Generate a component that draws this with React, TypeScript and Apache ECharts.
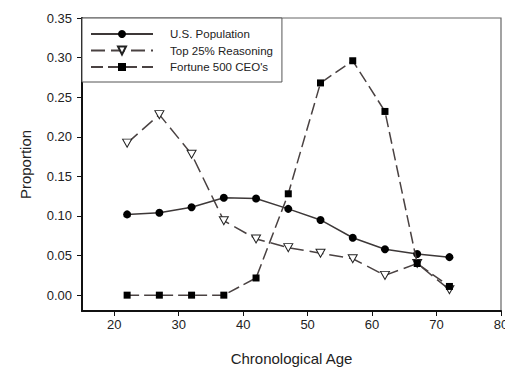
import React, { useEffect, useRef } from "react";
import * as echarts from "echarts";

// Age-group midpoints (years)
const ages = [22, 27, 32, 37, 42, 47, 52, 57, 62, 67, 72];

// Proportion of each group falling in each age bin
const usPopulation = [0.102, 0.104, 0.111, 0.123, 0.122, 0.109, 0.095, 0.0725, 0.058, 0.052, 0.048];
const topReasoning = [0.192, 0.228, 0.178, 0.094, 0.071, 0.06, 0.053, 0.046, 0.025, 0.04, 0.007];
const fortuneCEOs = [0, 0, 0, 0, 0.0217, 0.128, 0.268, 0.296, 0.232, 0.04, 0.011];

const seriesNames = ["U.S. Population", "Top 25% Reasoning", "Fortune 500 CEO's"];

const xTicks = [20, 30, 40, 50, 60, 70, 80];
const yTicks = [0, 0.05, 0.1, 0.15, 0.2, 0.25, 0.3, 0.35];

const FONT = "'Liberation Sans', Arial, Helvetica, sans-serif";
const INK = "#111";
const LINE = "#4a4242";

const pairs = (vals: number[]) => ages.map((a, i) => [a, vals[i]]);

export default function App() {
  const ref = useRef<HTMLDivElement>(null);

  useEffect(() => {
    if (!ref.current) return;
    const chart = echarts.init(ref.current, null, { renderer: "svg" });

    chart.setOption({
      animation: false,
      backgroundColor: "#ffffff",
      textStyle: { fontFamily: FONT },
      grid: {
        left: 82,
        right: 4,
        top: 18,
        bottom: 56,
        outerBoundsMode: "none",
        containLabel: false,
        show: true,
        borderColor: "#666",
        borderWidth: 1.2,
        backgroundColor: "transparent",
      },
      legend: {
        orient: "vertical",
        left: 82,
        top: 18,
        padding: [10, 9, 9, 8],
        itemGap: 4.5,
        itemWidth: 62,
        itemHeight: 10,
        backgroundColor: "#fff",
        borderColor: "#555",
        borderWidth: 1,
        selectedMode: false,
        textStyle: {
          fontFamily: FONT,
          fontSize: 11.5,
          color: "#222",
          padding: [0, 0, 0, 12],
        },
        data: seriesNames,
      },
      xAxis: {
        type: "value",
        min: 15,
        max: 80,
        name: "Chronological Age",
        nameLocation: "middle",
        nameGap: 40,
        nameTextStyle: { fontFamily: FONT, fontSize: 15, color: "#222" },
        axisLine: { show: true, onZero: false, lineStyle: { color: INK, width: 2 } },
        axisTick: {
          show: true,
          inside: false,
          length: 5,
          customValues: xTicks,
          lineStyle: { color: INK, width: 1 },
        },
        axisLabel: {
          customValues: xTicks,
          margin: 7,
          fontFamily: FONT,
          fontSize: 13,
          color: "#222",
        },
        splitLine: { show: false },
      },
      yAxis: {
        type: "value",
        min: -0.02,
        max: 0.35,
        name: "Proportion",
        nameLocation: "middle",
        nameGap: 49,
        nameTextStyle: { fontFamily: FONT, fontSize: 15, color: "#222" },
        axisLine: { show: true, onZero: false, lineStyle: { color: INK, width: 2 } },
        axisTick: {
          show: true,
          inside: false,
          length: 5,
          customValues: yTicks,
          lineStyle: { color: INK, width: 1 },
        },
        axisLabel: {
          customValues: yTicks,
          margin: 10,
          fontFamily: FONT,
          fontSize: 13,
          color: "#222",
          formatter: (v: number) => v.toFixed(2),
        },
        splitLine: { show: false },
      },
      series: [
        {
          name: seriesNames[0],
          type: "line",
          data: pairs(usPopulation),
          symbol: "circle",
          symbolSize: 8,
          itemStyle: { color: "#000", borderColor: "#000", borderWidth: 0 },
          lineStyle: { color: "#3d3838", width: 1.5, type: "solid" },
          z: 4,
        },
        {
          name: seriesNames[1],
          type: "line",
          data: pairs(topReasoning),
          symbol: "path://M0,0 L10,0 L5,9 Z",
          symbolSize: [9, 8],
          itemStyle: { color: "#fff", borderColor: "#222", borderWidth: 1 },
          lineStyle: { color: LINE, width: 1.5, type: [14, 6] },
          z: 3,
        },
        {
          name: seriesNames[2],
          type: "line",
          data: pairs(fortuneCEOs),
          symbol: "rect",
          symbolSize: 7,
          itemStyle: { color: "#000", borderColor: "#000", borderWidth: 0 },
          lineStyle: { color: LINE, width: 1.5, type: [12, 5] },
          z: 5,
        },
      ],
    });

    return () => chart.dispose();
  }, []);

  return (
    <div
      ref={ref}
      style={{ position: "fixed", left: 0, top: 0, width: 505, height: 367, background: "#fff" }}
    />
  );
}
